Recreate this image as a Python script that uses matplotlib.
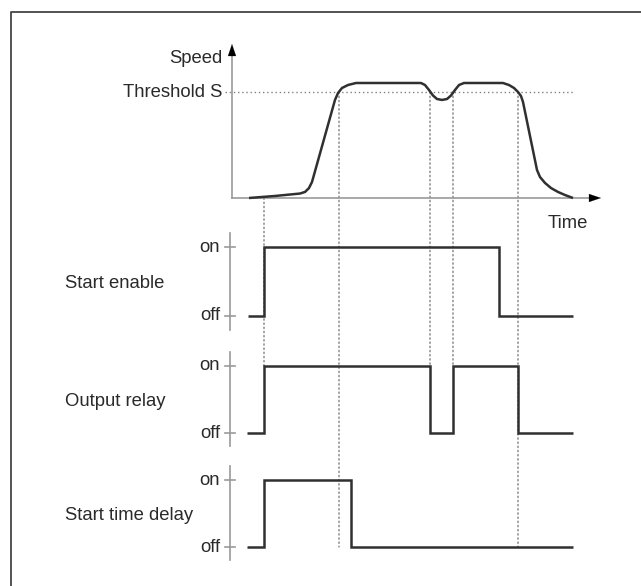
import matplotlib

matplotlib.use("Agg")
import matplotlib.pyplot as plt
from matplotlib.lines import Line2D
from matplotlib.patches import ConnectionPatch

plt.rcParams["font.family"] = ["Liberation Sans", "DejaVu Sans"]

# time in arbitrary units, speed normalised so that threshold S = 1
SPEED_T = [1.7, 4.3, 6.8, 7.3, 7.7, 8.0, 10.1, 10.3, 10.6, 11.0, 11.6, 12.4,
           18.9, 19.3, 19.7, 20.1, 20.5, 21.0, 21.5, 21.9, 22.3, 22.7, 23.2,
           27.1, 27.7, 28.2, 28.6, 28.9, 29.1, 30.5, 30.8, 31.3, 31.9, 32.6,
           33.3, 34.1]
SPEED_V = [0.0, 0.019, 0.042, 0.057, 0.094, 0.151, 0.858, 0.925, 0.99, 1.038,
           1.066, 1.085, 1.085, 1.066, 1.019, 0.967, 0.934, 0.925, 0.934,
           0.967, 1.019, 1.066, 1.085, 1.085, 1.066, 1.038, 1.0, 0.962, 0.906,
           0.264, 0.198, 0.142, 0.094, 0.057, 0.028, 0.0]
THRESHOLD = 1.0
SPEED_AXIS_TOP = 1.453
TIME_AXIS_END = 36.9
THRESHOLD_END = 34.2

SIGNAL_NAMES = ["Start enable", "Output relay", "Start time delay"]
START_ENABLE_T = [1.6, 3.2, 26.7, 34.1]
START_ENABLE_V = [0, 1, 0, 0]
OUTPUT_RELAY_T = [1.5, 3.2, 19.8, 22.1, 28.6, 34.1]
OUTPUT_RELAY_V = [0, 1, 0, 1, 0, 0]
TIME_DELAY_T = [1.5, 3.2, 11.9, 34.1]
TIME_DELAY_V = [0, 1, 0, 0]

# event markers: time, start (speed axes value), index of signal + level where it ends
EVENT_T = [3.2, 10.7, 19.8, 22.1, 28.6]
EVENT_FROM = [0.0, 1.0, 1.0, 1.0, 1.0]
EVENT_TO_SIGNAL = [1, 2, 1, 1, 2]
EVENT_TO_LEVEL = [1, 0, 1, 1, 0]

W, H = 641, 586
X_LIM = (-23.2, 40.9)
CURVE = "#303030"
AXIS = "#999999"
TEXT = "#2a2a2a"
DOT = "#808080"
FS = 13.3


def band(fig, top_px, bottom_px, ylim):
    ax = fig.add_axes([0, 1 - bottom_px / H, 1, (bottom_px - top_px) / H])
    ax.set_xlim(*X_LIM)
    ax.set_ylim(*ylim)
    ax.axis("off")
    ax.patch.set_visible(False)
    return ax


def arrow(ax, tip, base):
    ax.annotate(
        "",
        xy=tip,
        xytext=base,
        arrowprops=dict(
            arrowstyle="-|>,head_length=0.5,head_width=0.17",
            color="black",
            mutation_scale=17,
            shrinkA=0,
            shrinkB=0,
            lw=0.1,
        ),
    )


def draw_signal(ax, name, t, v):
    ax.plot([-0.2, -0.2], [-0.2, 1.21], color=AXIS, lw=1.2)
    for level, label in [(1, "on"), (0, "off")]:
        ax.plot([-0.7, 0.3], [level, level], color=AXIS, lw=1.2)
        ax.text(-1.2, level, label, ha="right", va="center", fontsize=FS, color=TEXT)
    ax.plot(t, v, drawstyle="steps-post", color=CURVE, lw=1.8,
            solid_joinstyle="miter", solid_capstyle="butt")
    ax.text(-16.7, 0.47, name, ha="left", va="center", fontsize=FS, color=TEXT)


def main() -> None:
    fig = plt.figure(figsize=(W / 100, H / 100), dpi=100)

    ax_speed = band(fig, 30, 230, (-0.302, 1.585))
    ax_se = band(fig, 225, 340, (-0.348, 1.319))
    ax_or = band(fig, 345, 455, (-0.328, 1.313))
    ax_td = band(fig, 460, 575, (-0.418, 1.299))
    signal_axes = [ax_se, ax_or, ax_td]

    # speed plot
    ax_speed.plot([0, 0], [0, SPEED_AXIS_TOP - 0.05], color=AXIS, lw=1.2)
    ax_speed.plot([0, TIME_AXIS_END - 0.5], [0, 0], color=AXIS, lw=1.2)
    arrow(ax_speed, (0, SPEED_AXIS_TOP), (0, SPEED_AXIS_TOP - 0.12))
    arrow(ax_speed, (TIME_AXIS_END, 0), (TIME_AXIS_END - 1.2, 0))
    ax_speed.plot([-0.7, THRESHOLD_END], [THRESHOLD, THRESHOLD], color=DOT,
                  lw=1.0, linestyle=(0, (1, 2)))
    ax_speed.plot(SPEED_T, SPEED_V, color=CURVE, lw=1.8, solid_capstyle="butt")
    ax_speed.text(-1.0, 1.32, "Speed", ha="right", va="center", fontsize=FS, color=TEXT)
    ax_speed.text(-1.0, THRESHOLD, "Threshold S", ha="right", va="center",
                  fontsize=FS, color=TEXT)
    ax_speed.text(33.6, -0.24, "Time", ha="center", va="center", fontsize=FS, color=TEXT)

    for ax, name, t, v in zip(
        signal_axes,
        SIGNAL_NAMES,
        [START_ENABLE_T, OUTPUT_RELAY_T, TIME_DELAY_T],
        [START_ENABLE_V, OUTPUT_RELAY_V, TIME_DELAY_V],
    ):
        draw_signal(ax, name, t, v)

    for t, y0, idx, level in zip(EVENT_T, EVENT_FROM, EVENT_TO_SIGNAL, EVENT_TO_LEVEL):
        con = ConnectionPatch(
            xyA=(t, y0), coordsA=ax_speed.transData,
            xyB=(t, level), coordsB=signal_axes[idx].transData,
            color=DOT, lw=1.0, linestyle=(0, (1, 2)), zorder=-1,
        )
        fig.add_artist(con)

    # frame (only left and top edges are inside the picture)
    x_left = 10.5 / W
    y_top = 1 - 11.5 / H
    fig.add_artist(Line2D([x_left, x_left, 1.0], [0.0, y_top, y_top],
                          transform=fig.transFigure, color="#444444", lw=1.3))

    fig.savefig("out.png", dpi=100)
    plt.close(fig)


if __name__ == "__main__":
    main()
